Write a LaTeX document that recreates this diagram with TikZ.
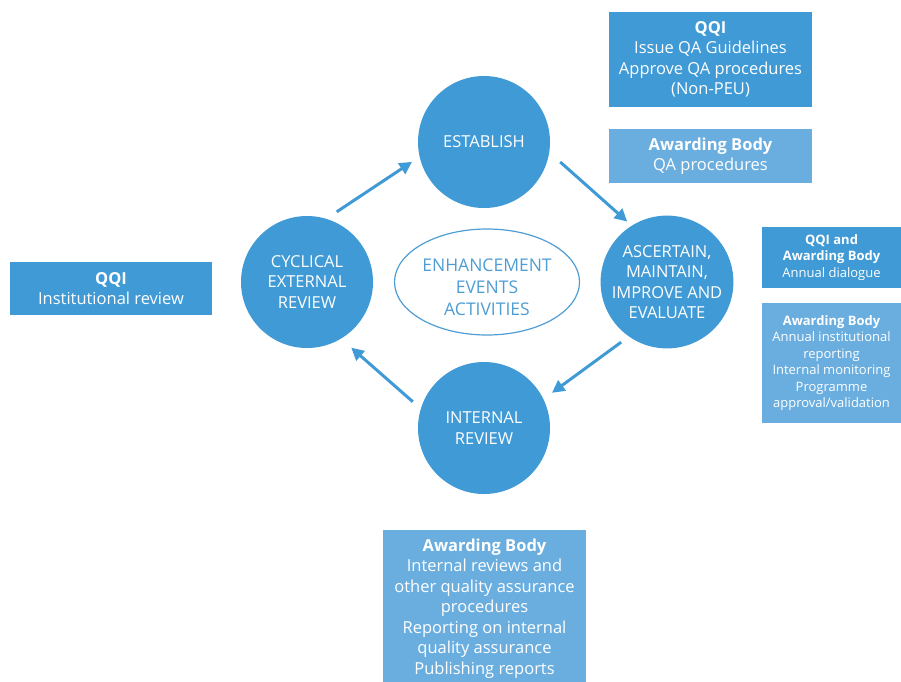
\documentclass[tikz,border=0pt]{standalone}
\usepackage{fontspec}
\setmainfont{Open Sans}
\usetikzlibrary{arrows.meta,shapes.geometric}
\definecolor{stageblue}{HTML}{3F9AD6}
\definecolor{paleblue}{HTML}{6AAEE0}
\definecolor{ringblue}{HTML}{4E9DD3}
\newcommand{\bigtxt}{\fontsize{16.5}{20.5}\selectfont}
\newcommand{\smalltxt}{\fontsize{13}{16.5}\selectfont}

\begin{document}
\begin{tikzpicture}[x=1pt,y=-1pt,
  stage/.style={circle,fill=stageblue,text=white,minimum size=132pt,inner sep=0pt,align=center,font=\bigtxt},
  darkbox/.style={rectangle,fill=stageblue,text=white,inner sep=0pt,align=center,font=\bigtxt},
  lightbox/.style={darkbox,fill=paleblue},
  flow/.style={draw=stageblue,line width=3pt,-{Triangle[length=12.5pt,width=12.5pt]}}]
       \useasboundingbox (0,0) rectangle (901,681);
       \node[stage] (est) at (484,142) {ESTABLISH};
       \node[stage] (cyc) at (307,282) {CYCLICAL\\EXTERNAL\\REVIEW};
       \node[stage] (asc) at (667,282) {ASCERTAIN,\\MAINTAIN,\\IMPROVE AND\\EVALUATE};
       \node[stage] (int) at (484,428) {INTERNAL\\REVIEW};
       \node[ellipse,draw=ringblue,line width=1.2pt,text=ringblue,minimum width=185pt,
         minimum height=106pt,inner sep=0pt,align=center,font=\fontsize{17.5}{22}\selectfont]
         (enh) at (487,282) {\rule{0pt}{22.5pt}ENHANCEMENT\\EVENTS\\ACTIVITIES};
       \draw[flow,shorten <=12.5pt,shorten >=9pt] (cyc.73) -- (est.193);
       \draw[flow,shorten <=14.5pt,shorten >=6pt] (est.-9) -- (asc.122);
       \draw[flow,shorten <=9.5pt,shorten >=10.5pt] (asc.235) -- (int.26);
       \draw[flow,shorten <=10.5pt,shorten >=13.5pt] (int.163) -- (cyc.-59);
       \node[darkbox,minimum width=203pt,minimum height=95pt] (qqitop) at (710.5,59.5)
         {\textbf{QQI}\\Issue QA Guidelines\\Approve QA procedures\\(Non-PEU)};
       \node[lightbox,minimum width=203pt,minimum height=54pt] (abtop) at (710.5,156)
         {\textbf{Awarding Body}\\QA procedures};
       \node[darkbox,font=\smalltxt,minimum width=139pt,minimum height=61pt] (qqiab) at (831.5,257.5)
         {\textbf{QQI and}\\\textbf{Awarding Body}\\Annual dialogue};
       \node[lightbox,font=\smalltxt,minimum width=139pt,minimum height=120pt] (abright) at (831.5,363)
         {\textbf{Awarding Body}\\Annual institutional\\reporting\\Internal monitoring\\Programme\\approval/validation};
       \node[darkbox,minimum width=202pt,minimum height=53pt] (qqileft) at (111,288.5)
         {\textbf{QQI}\\Institutional review};
       \node[lightbox,minimum width=203pt,minimum height=157pt] (abbot) at (484.5,608.5)
         {\textbf{Awarding Body}\\Internal reviews and\\other quality assurance\\procedures\\Reporting on internal\\quality assurance\\Publishing reports};
      \end{tikzpicture}
\end{document}
